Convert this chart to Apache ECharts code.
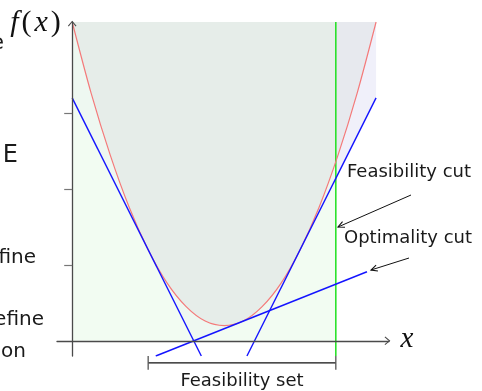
<!DOCTYPE html>
<html>
<head>
<meta charset="utf-8">
<script src="https://cdn.jsdelivr.net/npm/echarts@6/dist/echarts.min.js"></script>
<style>
  html, body { margin: 0; padding: 0; background: #fff; }
  #chart { width: 482px; height: 391px; }
</style>
</head>
<body>
<div id="chart"></div>
<script>
// Objective f(x), sampled
const parabolaX = [0, 0.25, 0.5, 0.75, 1, 1.25, 1.5, 1.75, 2, 2.25, 2.5, 2.75, 3, 3.25, 3.5, 3.75, 4];
const parabolaY = [4.2, 3.26, 2.45, 1.76, 1.2, 0.76, 0.45, 0.26, 0.2, 0.26, 0.45, 0.76, 1.2, 1.76, 2.45, 3.26, 4.2];

// Cuts (segments: [x, y] end points)
const cutLeft = [[0, 3.2], [1.7, -0.2]];
const cutRight = [[2.3, -0.2], [4, 3.2]];
const cutOptimality = [[1.1, -0.2], [3.88, 0.91]];
// Upper envelope of the cuts
const cutEnvelope = [[0, 3.2], [1.6, 0], [2.6, 0.4], [4, 3.2]];

// Feasibility interval, axis extents
const feasibleFrom = 1.0;
const feasibleTo = 3.47;
const xRange = [-0.2, 4.17];
const yRange = [-0.2, 4.2];
const yTicks = [1, 2, 3];
const ceiling = yRange[1];

const chart = echarts.init(document.getElementById('chart'), null, { renderer: 'canvas' });

const axisColor = '#4a4a4a';
const textFont = '"DejaVu Sans", sans-serif';
const mathFont = '"Liberation Serif", "DejaVu Serif", serif';

function head(x2, y2, ang, L, a, color) {
  return { type: 'polyline', z: 100, shape: { points: [
      [x2 - L * Math.cos(ang - a), y2 - L * Math.sin(ang - a)],
      [x2, y2],
      [x2 - L * Math.cos(ang + a), y2 - L * Math.sin(ang + a)]
    ] }, style: { stroke: color, lineWidth: 1.1, fill: null } };
}

function arrow(x1, y1, x2, y2) {
  const ang = Math.atan2(y2 - y1, x2 - x1);
  return [
    { type: 'line', shape: { x1, y1, x2, y2 }, style: { stroke: '#111', lineWidth: 1 } },
    head(x2, y2, ang, 7, 0.45, '#111')
  ];
}

function label(text, x, y, size, align) {
  return { type: 'text', x, y, style: { text, font: size + 'px ' + textFont, fill: '#1a1a1a', align: align || 'left', verticalAlign: 'middle' } };
}

const graphics = [
  // fragments of neighbouring text at the left edge
  label('e', 4, 43, 22, 'right'),
  label('E', 18, 156, 24, 'right'),
  label('fine', 36, 258, 20, 'right'),
  label('efine', 44, 320, 20, 'right'),
  label('on', 26, 352, 20, 'right'),
  // annotations
  label('Feasibility cut', 347, 172, 18),
  label('Optimality cut', 344, 238, 18),
  label('Feasibility set', 242, 381, 18, 'center'),
  ...arrow(411, 195, 338, 227),
  ...arrow(409, 258, 371, 270),
  // axis names
  { type: 'text', x: 35, y: 23, style: {
      text: '{i|f}{r|(}{i|x}{r|)}', align: 'center', verticalAlign: 'middle',
      rich: {
        i: { font: 'italic 30px ' + mathFont, fill: '#111', padding: [0, 2, 0, 2] },
        r: { font: '30px ' + mathFont, fill: '#111', padding: [0, 1, 0, 1] }
      } } },
  { type: 'text', x: 407, y: 339, style: { text: 'x', font: 'italic 29px ' + mathFont, fill: '#111', align: 'center', verticalAlign: 'middle' } }
];

const option = {
  animation: false,
  backgroundColor: '#fff',
  grid: { left: 57, right: 93, top: 22, bottom: 35, containLabel: false },
  xAxis: {
    type: 'value', min: xRange[0], max: xRange[1], z: 20,
    axisLine: { onZero: true, lineStyle: { color: axisColor, width: 1.3 } },
    axisTick: { show: false }, axisLabel: { show: false }, splitLine: { show: false }
  },
  yAxis: {
    type: 'value', min: yRange[0], max: yRange[1], z: 20,
    axisLine: { onZero: true, lineStyle: { color: axisColor, width: 1.3 } },
    axisTick: { show: true, length: 8, customValues: yTicks, lineStyle: { color: '#777', width: 1.2 } },
    axisLabel: { show: false }, splitLine: { show: false }
  },
  series: [
    { // region above the cuts
      type: 'line', data: cutEnvelope, symbol: 'none', silent: true,
      lineStyle: { width: 0 }, areaStyle: { origin: 'end', color: '#f0f0fa', opacity: 1 }, z: 1
    },
    { // feasible x range
      type: 'line', data: [[0, ceiling], [feasibleTo, ceiling]], symbol: 'none', silent: true,
      lineStyle: { width: 0 }, areaStyle: { color: 'rgba(236,251,236,0.7)', opacity: 1 }, z: 2
    },
    { // epigraph of f
      type: 'line', data: parabolaX.map((x, i) => [x, parabolaY[i]]), symbol: 'none', smooth: 0.3, silent: true,
      lineStyle: { width: 0 }, areaStyle: { origin: 'end', color: 'rgba(222,225,225,0.5)', opacity: 1 }, z: 3
    },
    { // feasibility boundary
      type: 'line', data: [[feasibleTo, yRange[0]], [feasibleTo, ceiling]], symbol: 'none', silent: true,
      lineStyle: { color: '#1ee01e', width: 1.5 }, z: 4
    },
    { // f(x)
      type: 'line', data: parabolaX.map((x, i) => [x, parabolaY[i]]), symbol: 'none', smooth: 0.3, silent: true,
      lineStyle: { color: '#f47a7a', width: 1.2 }, z: 5
    },
    { type: 'line', data: cutLeft, symbol: 'none', silent: true, lineStyle: { color: '#1414ff', width: 1.4 }, z: 6 },
    { type: 'line', data: cutRight, symbol: 'none', silent: true, lineStyle: { color: '#1414ff', width: 1.4 }, z: 6 },
    { type: 'line', data: cutOptimality, symbol: 'none', silent: true, lineStyle: { color: '#1414ff', width: 1.4 }, z: 6 },
    { // feasibility set bracket
      type: 'line', data: [[feasibleFrom, -0.29], [feasibleTo, -0.29]], symbol: 'none', silent: true, clip: false,
      lineStyle: { color: '#111', width: 1.1 }, z: 6
    },
    { type: 'line', data: [[feasibleFrom, -0.2], [feasibleFrom, -0.38]], symbol: 'none', silent: true, clip: false,
      lineStyle: { color: '#555', width: 1.3 }, z: 6 },
    { type: 'line', data: [[feasibleTo, -0.2], [feasibleTo, -0.38]], symbol: 'none', silent: true, clip: false,
      lineStyle: { color: '#555', width: 1.3 }, z: 6 }
  ],
  graphic: graphics
};

chart.setOption(option);

// open arrow heads at the positive ends of both axes
const xEnd = chart.convertToPixel({ gridIndex: 0 }, [xRange[1], 0]);
const yEnd = chart.convertToPixel({ gridIndex: 0 }, [0, yRange[1]]);
chart.setOption({
  graphic: graphics.concat([
    head(xEnd[0] + 0.5, xEnd[1], 0, 6, 0.7, axisColor),
    head(yEnd[0], yEnd[1] - 0.5, -Math.PI / 2, 6, 0.7, axisColor)
  ])
});
</script>
</body>
</html>
